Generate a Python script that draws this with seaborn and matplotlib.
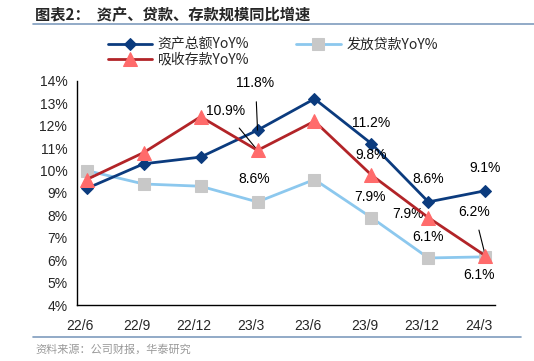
import numpy as np
import pandas as pd
import matplotlib.pyplot as plt
import seaborn as sns

sns.set_style("white")
plt.rcParams['font.family'] = ['Liberation Sans', 'Noto Sans CJK SC', 'DejaVu Sans']

periods = ['22/6', '22/9', '22/12', '23/3', '23/6', '23/9', '23/12', '24/3']
assets = [9.2, 10.3, 10.6, 11.8, 13.2, 11.2, 8.6, 9.1]
loans = [10.0, 9.4, 9.3, 8.6, 9.6, 7.9, 6.1, 6.15]
deposits = [9.6, 10.8, 12.4, 10.9, 12.2, 9.8, 7.9, 6.2]

df = pd.DataFrame({'x': np.arange(len(periods)), 'assets': assets,
                   'loans': loans, 'deposits': deposits})

fig = plt.figure(figsize=(5.34, 3.61), dpi=100)
ax = fig.add_axes([0.1442, 0.155, 0.7828, 0.621])

navy = '#0B3B7E'
red = '#B22428'
salmon = '#FF6B6B'
lightblue = '#8CC8EE'
grey = '#C8C8C8'

sns.lineplot(data=df, x='x', y='assets', ax=ax, color=navy, lw=2, marker='D', ms=6,
             markerfacecolor=navy, markeredgecolor=navy, label='资产总额YoY%', zorder=3)
sns.lineplot(data=df, x='x', y='loans', ax=ax, color=lightblue, lw=2, marker='s', ms=9,
             markerfacecolor=grey, markeredgecolor=grey, label='发放贷款YoY%', zorder=2)
sns.lineplot(data=df, x='x', y='deposits', ax=ax, color=red, lw=2, marker='^', ms=10,
             markerfacecolor=salmon, markeredgecolor=salmon, label='吸收存款YoY%', zorder=4)

ax.set_ylim(4, 14)
ax.set_yticks(np.arange(4, 15, 1))
ax.set_yticklabels([f'{v}%' for v in range(4, 15)], fontsize=10)
ax.set_xlim(-0.17, 7.17)
ax.set_xticks(np.arange(len(periods)) - 0.12)
ax.set_xticklabels(periods, fontsize=10)
ax.set_xlabel('')
ax.set_ylabel('')
for s in ['top', 'right']:
    ax.spines[s].set_visible(False)
for s in ['left', 'bottom']:
    ax.spines[s].set_color('black')
    ax.spines[s].set_linewidth(1)
ax.tick_params(axis='both', direction='out', length=4, width=1, color='black', pad=3)
ax.tick_params(axis='x', pad=6)

# data labels: offsets in pixels from the point (dy positive = up)
def lab(vals, i, dx, dy, line=False, text=None):
    t = text if text is not None else f'{vals[i]:.1f}%'
    ax.annotate(t, xy=(i, vals[i]), xytext=(dx * 0.72, dy * 0.72), textcoords='offset points',
                ha='center', va='center', fontsize=10, color='black',
                arrowprops=dict(arrowstyle='-', color='black', lw=0.8, shrinkA=6, shrinkB=0) if line else None)

lab(assets, 3, -2, 47, True)
lab(deposits, 3, -32, 39, True)
lab(loans, 3, -3, 23)
lab(assets, 5, 0, 21)
lab(deposits, 5, 0, 20)
lab(loans, 5, -1, 21)
lab(assets, 6, 0, 23)
lab(deposits, 6, -20, 4)
lab(loans, 6, 0, 21)
lab(assets, 7, 0, 23)
lab(deposits, 7, -11, 44, True)
lab(loans, 7, -6, -18, text='6.1%')

handles, labels = ax.get_legend_handles_labels()
order = [0, 2, 1]
fig.legend([handles[i] for i in order], [labels[i] for i in order],
           loc='upper left', bbox_to_anchor=(0.178, 0.93), ncol=2, frameon=False,
           handlelength=3.2, handletextpad=0.4, columnspacing=3.4,
           labelspacing=0.05, prop={'family': ['Noto Sans CJK SC', 'Liberation Sans'], 'size': 10})
if ax.get_legend():
    ax.get_legend().remove()

fig.text(0.066, 0.958, '图表2：  资产、贷款、存款规模同比增速', fontsize=11, fontweight='bold',
         family=['Noto Sans CJK SC', 'DejaVu Sans'], va='center', ha='left')
fig.add_artist(plt.Line2D([0.062, 1.0], [0.933, 0.933], color='#7F9CBD', lw=1.2))
fig.add_artist(plt.Line2D([0.062, 0.975], [0.067, 0.067], color='#7F9CBD', lw=1.2))
fig.text(0.066, 0.033, '资料来源：公司财报，华泰研究', fontsize=8, color='#999999',
         family=['Noto Sans CJK SC', 'DejaVu Sans'], va='center', ha='left')

fig.savefig('out.png', dpi=100)
